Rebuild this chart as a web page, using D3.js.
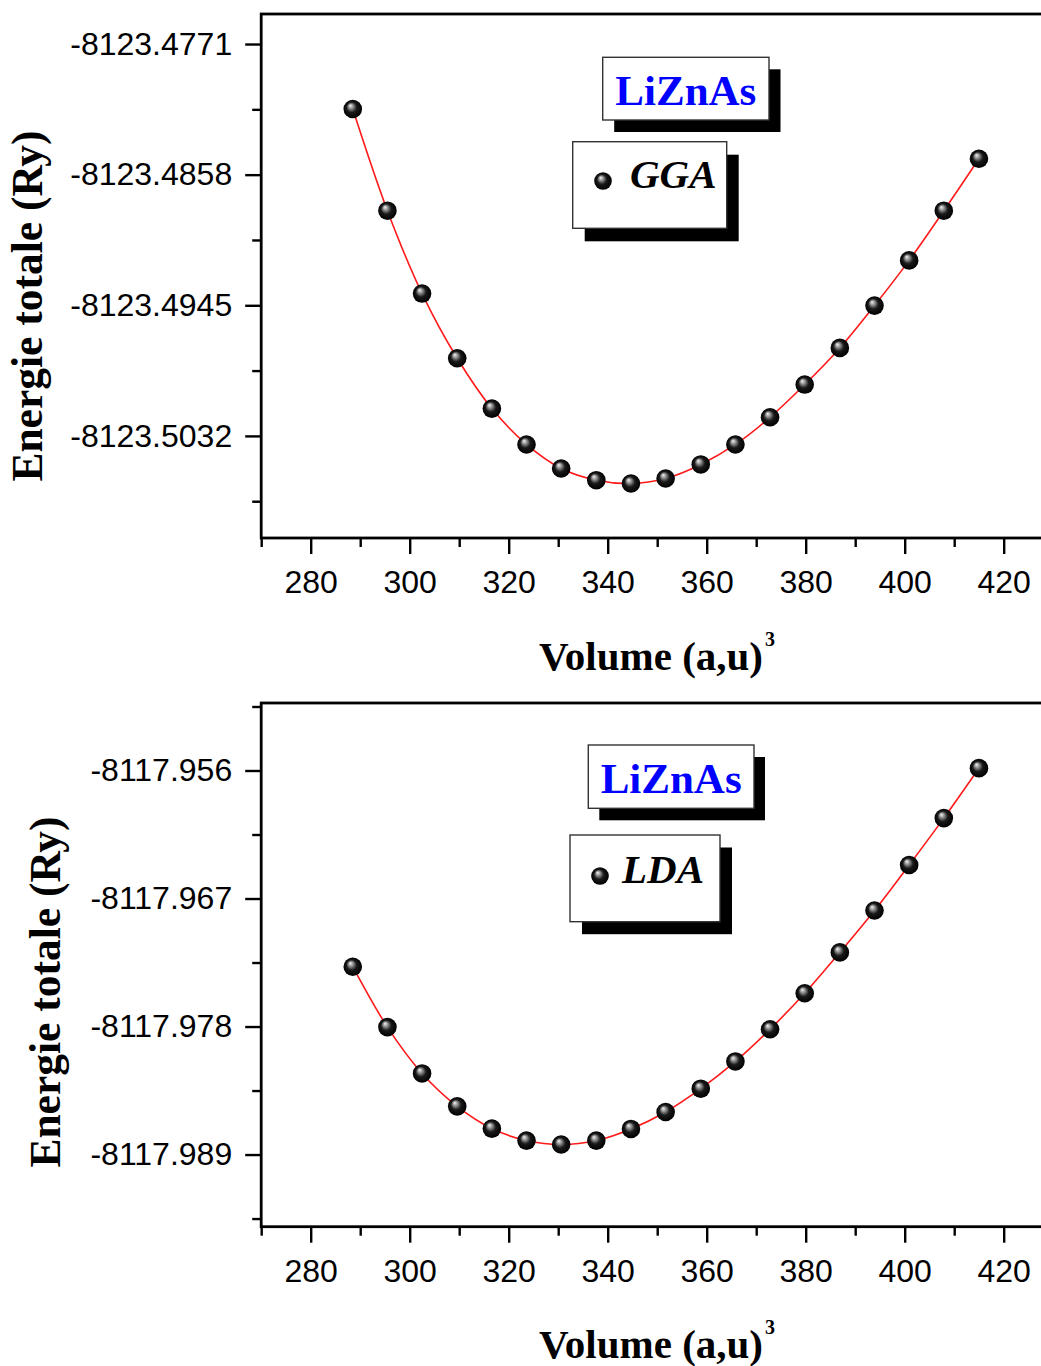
<!DOCTYPE html>
<html>
<head>
<meta charset="utf-8">
<script src="https://cdn.jsdelivr.net/npm/d3@7"></script>
<style>
  html, body { margin: 0; padding: 0; background: #fff; }
  svg { display: block; }
</style>
</head>
<body>
<div id="chart"></div>
<script>
// ---------------- data ----------------
const volume = [288.5, 295.5, 302.5, 309.6, 316.6, 323.6, 330.6, 337.7, 344.7, 351.7,
                358.8, 365.8, 372.8, 379.8, 386.9, 393.9, 400.9, 407.9, 415.0];

const energyGGA = [-8123.48143, -8123.48820, -8123.49372, -8123.49803, -8123.50138,
                   -8123.50377, -8123.50537, -8123.50615, -8123.50637, -8123.50604,
                   -8123.50510, -8123.50377, -8123.50196, -8123.49978, -8123.49734,
                   -8123.49452, -8123.49151, -8123.48820, -8123.48474];

const energyLDA = [-8117.97286, -8117.97805, -8117.98203, -8117.98486, -8117.98677,
                   -8117.98780, -8117.98814, -8117.98780, -8117.98680, -8117.98534,
                   -8117.98334, -8117.98100, -8117.97823, -8117.97514, -8117.97163,
                   -8117.96803, -8117.96412, -8117.96009, -8117.95580];

const xTicks = [280, 300, 320, 340, 360, 380, 400, 420];
const xMinorTicks = [270, 290, 310, 330, 350, 370, 390, 410, 430];

const ggaTicks = [-8123.4771, -8123.4858, -8123.4945, -8123.5032];
const ggaTickLabels = ["-8123.4771", "-8123.4858", "-8123.4945", "-8123.5032"];
const ggaMinorTicks = [-8123.48145, -8123.49015, -8123.49885, -8123.50755];

const ldaTicks = [-8117.956, -8117.967, -8117.978, -8117.989];
const ldaTickLabels = ["-8117.956", "-8117.967", "-8117.978", "-8117.989"];
const ldaMinorTicks = [-8117.9505, -8117.9615, -8117.9725, -8117.9835, -8117.9945];

const xTitle = "Volume (a,u)";
const yTitle = "Energie totale (Ry)";
const compound = "LiZnAs";

// ---------------- layout ----------------
const W = 1041, H = 1366;
const svg = d3.select("#chart").append("svg")
  .attr("width", W).attr("height", H)
  .attr("viewBox", `0 0 ${W} ${H}`);
svg.append("rect").attr("width", W).attr("height", H).attr("fill", "#fff");

const defs = svg.append("defs");
const grad = defs.append("radialGradient").attr("id", "ball")
  .attr("cx", "50%").attr("cy", "50%").attr("r", "50%")
  .attr("fx", "36%").attr("fy", "30%");
grad.append("stop").attr("offset", "0%").attr("stop-color", "#f4f4f4");
grad.append("stop").attr("offset", "22%").attr("stop-color", "#a0a0a0");
grad.append("stop").attr("offset", "55%").attr("stop-color", "#1a1a1a");
grad.append("stop").attr("offset", "100%").attr("stop-color", "#000");

const panels = [
  {
    energy: energyGGA, method: "GGA",
    yDomain: [-8123.5100, -8123.4751], yRange: [538, 14],
    ticks: ggaTicks, labels: ggaTickLabels, minor: ggaMinorTicks,
    yTitleX: 42, yTitleY: 306, xTitleY: 670, xLabelY: 593,
    box1: {x: 602.7, y: 57.3, w: 166.3, h: 62.7, dx: 11.5, dy: 12},
    box2: {x: 572.7, y: 141.7, w: 154, h: 86.6, dx: 12, dy: 13},
    ball: [603, 181], mText: [630, 188]
  },
  {
    energy: energyLDA, method: "LDA",
    yDomain: [-8117.9952, -8117.9502], yRange: [1226.7, 703],
    ticks: ldaTicks, labels: ldaTickLabels, minor: ldaMinorTicks,
    yTitleX: 60, yTitleY: 992, xTitleY: 1358, xLabelY: 1282,
    box1: {x: 588.3, y: 745, w: 165.7, h: 63.3, dx: 11, dy: 12},
    box2: {x: 570, y: 835, w: 150, h: 86.7, dx: 12, dy: 12.5},
    ball: [600, 876], mText: [622, 883]
  }
];

const tickFont = "'Liberation Sans', Arial, sans-serif";
const serif = "'Liberation Serif', 'Times New Roman', serif";

panels.forEach(p => {
  const g = svg.append("g");
  const x = d3.scaleLinear().domain([270, 430]).range([261.2, 1053.2]);
  const y = d3.scaleLinear().domain(p.yDomain).range(p.yRange);
  const [x0, x1] = x.range();
  const yb = p.yRange[0], yt = p.yRange[1];

  // frame
  g.append("rect")
    .attr("x", x0).attr("y", yt)
    .attr("width", x1 - x0).attr("height", yb - yt)
    .attr("fill", "none").attr("stroke", "#000").attr("stroke-width", 2.8);

  // x axis: major + minor
  const xAxisMajor = d3.axisBottom(x).tickValues(xTicks).tickSize(16).tickPadding(8)
    .tickFormat(d3.format("d"));
  const xAxisMinor = d3.axisBottom(x).tickValues(xMinorTicks).tickSize(9).tickFormat("");
  const gxMinor = g.append("g").attr("transform", `translate(0,${yb})`).call(xAxisMinor);
  const gx = g.append("g").attr("transform", `translate(0,${yb})`).call(xAxisMajor);
  [gx, gxMinor].forEach(a => {
    a.select(".domain").remove();
    a.selectAll(".tick line").attr("stroke", "#000").attr("stroke-width", 2.4);
  });
  gx.selectAll(".tick text")
    .attr("font-family", tickFont).attr("font-size", 32).attr("fill", "#000")
    .attr("dy", null).attr("y", p.xLabelY - yb);

  // y axis: major + minor
  const yAxisMajor = d3.axisLeft(y).tickValues(p.ticks).tickSize(16).tickPadding(13)
    .tickFormat((d, i) => p.labels[i]);
  const yAxisMinor = d3.axisLeft(y).tickValues(p.minor).tickSize(9).tickFormat("");
  const gyMinor = g.append("g").attr("transform", `translate(${x0},0)`).call(yAxisMinor);
  const gy = g.append("g").attr("transform", `translate(${x0},0)`).call(yAxisMajor);
  [gy, gyMinor].forEach(a => {
    a.select(".domain").remove();
    a.selectAll(".tick line").attr("stroke", "#000").attr("stroke-width", 2.4);
  });
  gy.selectAll(".tick text")
    .attr("font-family", tickFont).attr("font-size", 32).attr("fill", "#000");

  // axis titles
  const xt = g.append("text")
    .attr("x", 657).attr("y", p.xTitleY)
    .attr("text-anchor", "middle")
    .attr("font-family", serif).attr("font-weight", "bold").attr("font-size", 41)
    .attr("fill", "#000");
  xt.append("tspan").text(xTitle);
  xt.append("tspan").attr("font-size", 20).attr("dy", -24).attr("dx", 2).text("3");

  g.append("text")
    .attr("transform", `translate(${p.yTitleX},${p.yTitleY}) rotate(-90)`)
    .attr("text-anchor", "middle")
    .attr("font-family", serif).attr("font-weight", "bold").attr("font-size", 43.5)
    .attr("fill", "#000")
    .text(yTitle);

  // fit curve
  const pts = volume.map((v, i) => [v, p.energy[i]]);
  const line = d3.line().x(d => x(d[0])).y(d => y(d[1])).curve(d3.curveCatmullRom.alpha(0.5));
  g.append("path").datum(pts)
    .attr("d", line).attr("fill", "none")
    .attr("stroke", "#ff1a1a").attr("stroke-width", 1.6);

  // markers
  g.selectAll("circle.pt").data(pts).join("circle")
    .attr("class", "pt")
    .attr("cx", d => x(d[0])).attr("cy", d => y(d[1]))
    .attr("r", 9.3).attr("fill", "url(#ball)");

  // legend boxes
  const drawBox = b => {
    g.append("rect").attr("x", b.x + b.dx).attr("y", b.y + b.dy)
      .attr("width", b.w).attr("height", b.h).attr("fill", "#000");
    g.append("rect").attr("x", b.x).attr("y", b.y)
      .attr("width", b.w).attr("height", b.h)
      .attr("fill", "#fff").attr("stroke", "#333").attr("stroke-width", 1.4);
  };
  drawBox(p.box1);
  g.append("text")
    .attr("x", p.box1.x + p.box1.w / 2).attr("y", p.box1.y + 48)
    .attr("text-anchor", "middle")
    .attr("font-family", serif).attr("font-weight", "bold").attr("font-size", 43)
    .attr("fill", "#0000ff").text(compound);

  drawBox(p.box2);
  g.append("circle").attr("cx", p.ball[0]).attr("cy", p.ball[1])
    .attr("r", 8.8).attr("fill", "url(#ball)");
  g.append("text")
    .attr("x", p.mText[0]).attr("y", p.mText[1])
    .attr("font-family", serif).attr("font-weight", "bold").attr("font-style", "italic")
    .attr("font-size", 41).attr("fill", "#000").text(p.method);
});
</script>
</body>
</html>
